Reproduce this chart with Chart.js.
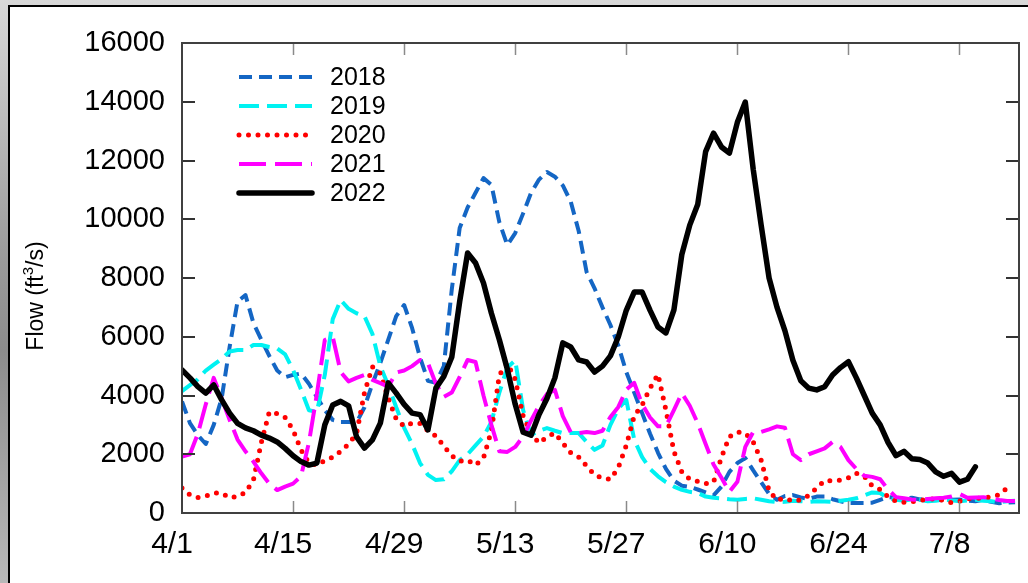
<!DOCTYPE html>
<html>
<head>
<meta charset="utf-8">
<script src="https://cdn.jsdelivr.net/npm/chart.js@4.4.1/dist/chart.umd.min.js"></script>
<style>
  html, body { margin: 0; padding: 0; }
  body {
    width: 1028px; height: 583px; overflow: hidden; position: relative;
    background: linear-gradient(180deg, #d8d8d8 0%, #9a9a9a 45%, #8c8c8c 60%, #b8b8b8 100%);
  }
  .frame {
    position: absolute; left: 8px; top: 5px; width: 1100px; height: 700px;
    background: #fff; border: 2px solid #000;
  }
  .chart-container { position: absolute; left: 0; top: 0; width: 1028px; height: 583px; }
</style>
</head>
<body>
<div class="frame"></div>
<div class="chart-container"><canvas id="flowChart"></canvas></div>
<script>
// x tick positions are days after 4/1
var tickDays = [0, 14, 28, 42, 56, 70, 84, 98];
var tickLabels = ['4/1', '4/15', '4/29', '5/13', '5/27', '6/10', '6/24', '7/8'];
var seriesNames = ['2018', '2019', '2020', '2021', '2022'];

// daily flow (ft3/s), starting 4/1
var flow2018 = [3800,3060,2650,2350,3000,3900,5650,7200,7420,6470,
  5900,5350,4850,4620,4700,4750,4400,3950,3500,3170,
  3100,3100,3080,3600,4400,5110,5900,6700,7080,6300,
  5300,4500,4430,5000,7600,9700,10400,10900,11400,11170,
  9900,9120,9530,10200,10900,11350,11610,11450,11150,10600,
  9600,8200,7650,7000,6400,5700,4800,4100,3400,2700,
  2050,1500,1100,930,890,800,700,600,900,1400,
  1700,1870,1450,1050,650,450,580,610,530,480,
  560,560,470,400,340,340,340,350,450,540,
  520,500,520,460,480,450,430,450,460,420,
  400,450,380,330,350,370];
var flow2019 = [4150,4350,4550,4850,5050,5250,5500,5550,5550,5720,
  5720,5650,5600,5400,4870,4200,3500,3440,4700,6600,
  7250,6950,6800,6700,6100,5000,4350,3600,2900,2350,
  1700,1300,1120,1150,1420,1800,2000,2300,2600,3100,
  4100,4950,5200,3500,2650,2800,2890,2800,2720,2720,
  2720,2420,2150,2300,3000,3550,3850,2500,1900,1500,
  1250,1050,900,790,720,680,560,520,500,470,
  450,480,500,450,400,370,380,420,400,380,
  400,390,380,420,450,500,600,700,680,500,
  450,420,470,450,400,420,450,430,400,430,
  450,420,400,370,400,420];
var flow2020 = [850,620,530,580,680,680,520,560,700,1120,
  2400,3440,3380,3250,2830,2150,1700,1630,1780,1900,
  2100,2350,2700,4100,4980,4750,3910,3200,2950,3060,
  3050,2800,2620,2280,1950,1760,1800,1630,1870,2800,
  4700,5100,4550,3300,2700,2380,2590,2720,2380,2050,
  1900,1600,1300,1190,1150,1550,2300,3300,3680,4250,
  4720,3500,2100,1400,1150,1080,1000,1050,1900,2600,
  2760,2720,2420,1800,750,440,500,400,450,600,
  850,1100,1100,1120,1200,1350,1250,920,800,550,
  400,370,380,420,470,480,430,350,400,480,
  500,510,560,620,850];
var flow2021 = [1920,2000,2700,3700,4600,3900,3170,2500,2100,1750,
  1350,1000,780,900,1000,1250,2400,4050,5890,6000,
  4800,4480,4600,4700,4530,4420,4300,4780,4850,5000,
  5210,5100,4400,3950,4100,4630,5210,5140,4000,3000,
  2100,2080,2250,2600,3150,3650,4050,4190,3300,2750,
  2720,2760,2720,2800,3270,3610,4200,4430,3700,3250,
  2950,2950,3500,4080,3650,3060,2350,1650,1200,720,
  1060,2250,2760,2760,2850,2950,2900,2000,1800,2000,
  2100,2200,2420,2250,1800,1500,1270,1230,1150,800,
  540,500,460,440,480,500,520,560,650,520,
  530,540,500,440,410,410];
var flow2022 = [4870,4600,4300,4080,4360,3850,3400,3050,2900,2800,
  2650,2550,2420,2200,1950,1750,1630,1700,3000,3680,
  3800,3650,2590,2210,2490,3060,4430,4080,3700,3400,
  3350,2830,4250,4650,5300,7200,8850,8510,7830,6800,
  5900,4900,3700,2750,2650,3350,3900,4600,5790,5650,
  5210,5140,4800,5000,5350,6000,6900,7520,7520,6900,
  6330,6130,6910,8800,9800,10500,12300,12930,12460,12250,
  13300,13990,11700,9800,8000,7000,6200,5200,4500,4250,
  4190,4300,4700,4950,5150,4600,4000,3400,3000,2400,
  1950,2100,1850,1820,1700,1400,1250,1350,1050,1150,
  1570];

function toPoints(values) {
  return values.map(function (v, i) { return { x: i, y: v }; });
}

var fontFamily = "'Liberation Sans', Arial, sans-serif";

// plot box, inward tick marks, legend and y-axis title
var frameTicks = {
  id: 'frameTicks',
  afterDatasetsDraw: function (chart) {
    var ctx = chart.ctx, a = chart.chartArea;
    var xs = chart.scales.x, ys = chart.scales.y;
    ctx.save();
    ctx.strokeStyle = '#8a8a8a';
    ctx.lineWidth = 1.5;
    tickDays.slice(1).forEach(function (d) {
      var px = Math.round(xs.getPixelForValue(d)) + 0.5;
      ctx.beginPath();
      ctx.moveTo(px, a.bottom); ctx.lineTo(px, a.bottom - 12);
      ctx.moveTo(px, a.top); ctx.lineTo(px, a.top + 12);
      ctx.stroke();
    });
    ctx.strokeStyle = '#333';
    ctx.lineWidth = 2;
    for (var v = 2000; v < 16000; v += 2000) {
      var py = Math.round(ys.getPixelForValue(v));
      ctx.beginPath();
      ctx.moveTo(a.left, py); ctx.lineTo(a.left + 13, py);
      ctx.moveTo(a.right, py); ctx.lineTo(a.right - 13, py);
      ctx.stroke();
    }
    ctx.strokeStyle = '#404040';
    ctx.lineWidth = 2;
    ctx.strokeRect(a.left, a.top, a.right - a.left, a.bottom - a.top);

    // legend
    chart.data.datasets.forEach(function (ds, i) {
      var y = 77 + i * 29;
      ctx.beginPath();
      ctx.strokeStyle = ds.borderColor;
      ctx.lineWidth = ds.borderWidth;
      ctx.lineCap = ds.borderCapStyle || 'butt';
      ctx.setLineDash(ds.borderDash || []);
      ctx.moveTo(239, y); ctx.lineTo(312, y);
      ctx.stroke();
      ctx.setLineDash([]);
      ctx.fillStyle = '#000';
      ctx.font = '25px ' + fontFamily;
      ctx.textBaseline = 'middle';
      ctx.textAlign = 'left';
      ctx.fillText(ds.label, 330, y + 1);
    });

    // y title with a real superscript
    ctx.translate(37, 296);
    ctx.rotate(-Math.PI / 2);
    ctx.fillStyle = '#000';
    ctx.textBaseline = 'middle';
    var big = '23px ' + fontFamily, small = '15px ' + fontFamily;
    var p1 = 'Flow (ft', p2 = '3', p3 = '/s)';
    ctx.font = big; var w1 = ctx.measureText(p1).width, w3 = ctx.measureText(p3).width;
    ctx.font = small; var w2 = ctx.measureText(p2).width;
    var x0 = -(w1 + w2 + w3) / 2;
    ctx.textAlign = 'left';
    ctx.font = big; ctx.fillText(p1, x0, 0);
    ctx.font = small; ctx.fillText(p2, x0 + w1, -8);
    ctx.font = big; ctx.fillText(p3, x0 + w1 + w2, 0);
    ctx.restore();
  }
};

var ctx = document.getElementById('flowChart').getContext('2d');
new Chart(ctx, {
  type: 'line',
  data: {
    datasets: [
      { label: seriesNames[0], data: toPoints(flow2018), borderColor: '#1466c4', borderWidth: 4, borderDash: [13, 7], order: 5 },
      { label: seriesNames[1], data: toPoints(flow2019), borderColor: '#00f2f2', borderWidth: 4, borderDash: [20, 8], order: 4 },
      { label: seriesNames[2], data: toPoints(flow2020), borderColor: '#ff0000', borderWidth: 5, borderDash: [0, 9.5], borderCapStyle: 'round', order: 3 },
      { label: seriesNames[3], data: toPoints(flow2021), borderColor: '#ff00ff', borderWidth: 4, borderDash: [27, 9], order: 2 },
      { label: seriesNames[4], data: toPoints(flow2022), borderColor: '#000000', borderWidth: 5.5, borderCapStyle: 'round', order: 1 }
    ]
  },
  options: {
    responsive: true,
    maintainAspectRatio: false,
    animation: false,
    layout: { padding: { top: 43, right: 9, left: 0, bottom: 0 } },
    elements: {
      point: { radius: 0 },
      line: { tension: 0, borderJoinStyle: 'round' }
    },
    scales: {
      x: {
        type: 'linear',
        min: 0,
        max: 105.5,
        grid: { display: false, drawTicks: false },
        border: { display: false },
        afterBuildTicks: function (scale) {
          scale.ticks = tickDays.map(function (d) { return { value: d }; });
        },
        afterFit: function (scale) { scale.height = 70; },
        ticks: {
          color: '#000',
          padding: 14,
          labelOffset: -10,
          maxRotation: 0,
          autoSkip: false,
          font: { family: fontFamily, size: 30 },
          callback: function (value) {
            var k = tickDays.indexOf(value);
            return k >= 0 ? tickLabels[k] : '';
          }
        }
      },
      y: {
        min: 0,
        max: 16000,
        grid: { display: false, drawTicks: false },
        border: { display: false },
        afterFit: function (scale) { scale.width = 182; },
        ticks: {
          stepSize: 2000,
          color: '#000',
          padding: 17,
          font: { family: fontFamily, size: 29 },
          callback: function (value) { return String(value); }
        }
      }
    },
    plugins: {
      legend: { display: false },
      tooltip: { enabled: false }
    }
  },
  plugins: [frameTicks]
});
</script>
</body>
</html>
